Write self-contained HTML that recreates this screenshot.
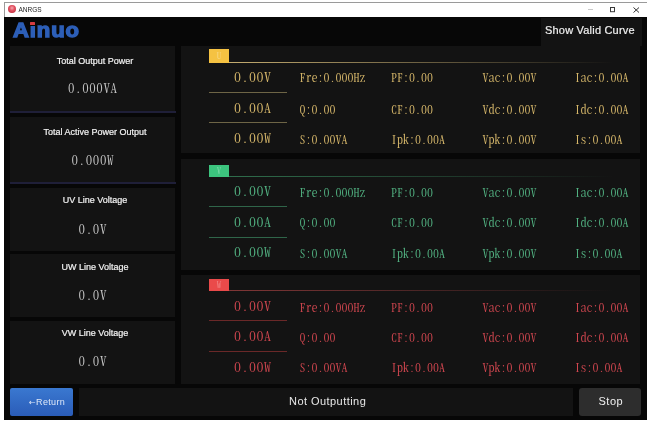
<!DOCTYPE html>
<html><head><meta charset="utf-8"><title>ANRGS</title><style>
*{margin:0;padding:0;box-sizing:border-box}
html,body{width:647px;height:421px;overflow:hidden;background:#fff}
body{position:relative;font-family:"Liberation Sans","Noto Sans CJK SC",sans-serif}
.a{position:absolute;white-space:nowrap}
.titlebar{left:4px;top:2px;width:643px;height:15px;background:#fff;border-top:1px solid #9a9a9a;border-left:1px solid #9a9a9a}
.app{left:4px;top:17px;width:643px;height:402.5px;background:#070707}
.panel{background:#131313}
.lt{color:#f2f2f2;font-size:9px;text-align:center;width:165px;left:12.5px;line-height:20px;-webkit-text-stroke:0.2px #f2f2f2}
.lv{color:#c4c4c4;font-family:'Noto Serif CJK SC',serif;font-feature-settings:'hwid';font-size:13px;letter-spacing:0.6px;padding-left:0.6px;text-align:center;width:165px;left:10px;line-height:20px}
.big{font-family:'Noto Serif CJK SC',serif;font-feature-settings:'hwid';font-size:14px;letter-spacing:0.5px;left:234px;line-height:20px;transform:scaleY(0.91);transform-origin:0 0}
.sm{font-family:'Noto Serif CJK SC',serif;font-feature-settings:'hwid';font-size:12px;line-height:20px}
.badge{left:209px;width:20px;height:13px;color:rgba(255,255,255,.35);font-family:'Noto Serif CJK SC',serif;font-feature-settings:'hwid';font-size:9px;text-align:center;line-height:13px}
</style></head>
<body>
<div class="a titlebar"></div>
<div class="a" style="left:8.2px;top:5.2px;width:7.8px;height:7.8px;border-radius:50%;background:radial-gradient(circle at 50% 38%,#f6a8b0 0,#e25262 40%,#c43040 80%,#9c2432 100%)"></div>
<div class="a" style="left:18.5px;top:5.2px;font-size:6.5px;color:#1e1e1e;line-height:9px">ANRGS</div>
<div class="a" style="left:588px;top:9px;width:5px;height:1px;background:#c8c8c8"></div>
<svg class="a" style="left:609px;top:7px" width="7" height="6" viewBox="0 0 7 6"><rect x="1.5" y="0.5" width="4" height="4.2" fill="none" stroke="#3a3a3a" stroke-width="1"/></svg>
<svg class="a" style="left:633px;top:7px" width="7" height="6" viewBox="0 0 7 6"><path d="M0.5 0.5L6 5.5M6 0.5L0.5 5.5" stroke="#333" stroke-width="1"/></svg>
<div class="a app"></div>
<div class="a" style="left:12.6px;top:17.3px;font-size:21px;font-weight:bold;color:#2d5fb8;letter-spacing:0.85px;line-height:25px;-webkit-text-stroke:1.4px #2d5fb8;transform:scaleX(1.05);transform-origin:0 0">Ainuo</div>
<div class="a" style="left:29.5px;top:19px;width:6.5px;height:7px;background:#070707"></div>
<div class="a" style="left:30.4px;top:22px;width:4.8px;height:3.4px;background:#d53c40;border-radius:0.5px"></div>
<div class="a" style="left:541px;top:18px;width:101px;height:28px;background:#131313"></div>
<div class="a" style="left:545px;top:19.8px;color:#f0f0f0;font-size:11px;letter-spacing:0.2px;line-height:20px;-webkit-text-stroke:0.2px #f0f0f0">Show Valid Curve</div>
<div class="a panel" style="left:10px;top:46px;width:165px;height:67px"></div>
<div class="a" style="left:10px;top:111px;width:166px;height:2px;background:#1f1f38"></div>
<div class="a lt" style="top:50.7px">Total Output Power</div>
<div class="a lv" style="top:78px">0.000VA</div>
<div class="a panel" style="left:10px;top:117px;width:165px;height:67px"></div>
<div class="a" style="left:10px;top:182px;width:166px;height:2px;background:#1f1f38"></div>
<div class="a lt" style="top:122px">Total Active Power Output</div>
<div class="a lv" style="top:150.2px">0.000W</div>
<div class="a panel" style="left:10px;top:188px;width:165px;height:63px"></div>
<div class="a lt" style="top:190.4px">UV Line Voltage</div>
<div class="a lv" style="top:219.2px">0.0V</div>
<div class="a panel" style="left:10px;top:254px;width:165px;height:63px"></div>
<div class="a lt" style="top:257.4px">UW Line Voltage</div>
<div class="a lv" style="top:285.2px">0.0V</div>
<div class="a panel" style="left:10px;top:321px;width:165px;height:63px"></div>
<div class="a lt" style="top:323.4px">VW Line Voltage</div>
<div class="a lv" style="top:351.2px">0.0V</div>
<div class="a panel" style="left:181px;top:46px;width:459px;height:107px"></div>
<div class="a badge" style="top:49px;height:13.6px;line-height:13.6px;background:#f5c242">U</div>
<div class="a" style="left:229px;top:62px;width:405px;height:1px;background:linear-gradient(90deg,#c4ac70,rgba(19,19,19,0) 95%)"></div>
<div class="a big" style="top:66.9px;color:#d6b76a">0.00V</div>
<div class="a sm" style="left:299.5px;top:67.2px;color:#d6b76a">Fre:0.000Hz</div>
<div class="a sm" style="left:391px;top:67.2px;color:#d6b76a">PF:0.00</div>
<div class="a sm" style="left:482.5px;top:67.2px;color:#d6b76a">Vac:0.00V</div>
<div class="a sm" style="left:574.5px;top:67.2px;color:#d6b76a">Iac:0.00A</div>
<div class="a" style="left:209px;top:91.5px;width:78px;height:1px;background:#6e6546"></div>
<div class="a big" style="top:98.2px;color:#d6b76a">0.00A</div>
<div class="a sm" style="left:299.5px;top:98.5px;color:#d6b76a">Q:0.00</div>
<div class="a sm" style="left:391px;top:98.5px;color:#d6b76a">CF:0.00</div>
<div class="a sm" style="left:482.5px;top:98.5px;color:#d6b76a">Vdc:0.00V</div>
<div class="a sm" style="left:574.5px;top:98.5px;color:#d6b76a">Idc:0.00A</div>
<div class="a" style="left:209px;top:122px;width:78px;height:1px;background:#6e6546"></div>
<div class="a big" style="top:128.3px;color:#d6b76a">0.00W</div>
<div class="a sm" style="left:299.5px;top:128.6px;color:#d6b76a">S:0.00VA</div>
<div class="a sm" style="left:391px;top:128.6px;color:#d6b76a">Ipk:0.00A</div>
<div class="a sm" style="left:482.5px;top:128.6px;color:#d6b76a">Vpk:0.00V</div>
<div class="a sm" style="left:574.5px;top:128.6px;color:#d6b76a">Is:0.00A</div>
<div class="a panel" style="left:181px;top:159px;width:459px;height:110.5px"></div>
<div class="a badge" style="top:165px;height:12px;line-height:12px;background:#3cc47e">V</div>
<div class="a" style="left:229px;top:176px;width:405px;height:1px;background:linear-gradient(90deg,#2f6e4c,rgba(19,19,19,0) 95%)"></div>
<div class="a big" style="top:181.20000000000002px;color:#52b282">0.00V</div>
<div class="a sm" style="left:299.5px;top:181.5px;color:#52b282">Fre:0.000Hz</div>
<div class="a sm" style="left:391px;top:181.5px;color:#52b282">PF:0.00</div>
<div class="a sm" style="left:482.5px;top:181.5px;color:#52b282">Vac:0.00V</div>
<div class="a sm" style="left:574.5px;top:181.5px;color:#52b282">Iac:0.00A</div>
<div class="a" style="left:209px;top:205.5px;width:78px;height:1px;background:#2f6549"></div>
<div class="a big" style="top:212.1px;color:#52b282">0.00A</div>
<div class="a sm" style="left:299.5px;top:212.39999999999998px;color:#52b282">Q:0.00</div>
<div class="a sm" style="left:391px;top:212.39999999999998px;color:#52b282">CF:0.00</div>
<div class="a sm" style="left:482.5px;top:212.39999999999998px;color:#52b282">Vdc:0.00V</div>
<div class="a sm" style="left:574.5px;top:212.39999999999998px;color:#52b282">Idc:0.00A</div>
<div class="a" style="left:209px;top:236.8px;width:78px;height:1px;background:#2f6549"></div>
<div class="a big" style="top:242.20000000000002px;color:#52b282">0.00W</div>
<div class="a sm" style="left:299.5px;top:242.5px;color:#52b282">S:0.00VA</div>
<div class="a sm" style="left:391px;top:242.5px;color:#52b282">Ipk:0.00A</div>
<div class="a sm" style="left:482.5px;top:242.5px;color:#52b282">Vpk:0.00V</div>
<div class="a sm" style="left:574.5px;top:242.5px;color:#52b282">Is:0.00A</div>
<div class="a panel" style="left:181px;top:275px;width:459px;height:108.5px"></div>
<div class="a badge" style="top:279px;height:11.7px;line-height:11.7px;background:#ea4a4a">W</div>
<div class="a" style="left:229px;top:290px;width:405px;height:1px;background:linear-gradient(90deg,#803636,rgba(19,19,19,0) 95%)"></div>
<div class="a big" style="top:296.2px;color:#d0464f">0.00V</div>
<div class="a sm" style="left:299.5px;top:296.5px;color:#d0464f">Fre:0.000Hz</div>
<div class="a sm" style="left:391px;top:296.5px;color:#d0464f">PF:0.00</div>
<div class="a sm" style="left:482.5px;top:296.5px;color:#d0464f">Vac:0.00V</div>
<div class="a sm" style="left:574.5px;top:296.5px;color:#d0464f">Iac:0.00A</div>
<div class="a" style="left:209px;top:320px;width:78px;height:1px;background:#6a2828"></div>
<div class="a big" style="top:326.29999999999995px;color:#d0464f">0.00A</div>
<div class="a sm" style="left:299.5px;top:326.59999999999997px;color:#d0464f">Q:0.00</div>
<div class="a sm" style="left:391px;top:326.59999999999997px;color:#d0464f">CF:0.00</div>
<div class="a sm" style="left:482.5px;top:326.59999999999997px;color:#d0464f">Vdc:0.00V</div>
<div class="a sm" style="left:574.5px;top:326.59999999999997px;color:#d0464f">Idc:0.00A</div>
<div class="a" style="left:209px;top:351px;width:78px;height:1px;background:#6a2828"></div>
<div class="a big" style="top:357.09999999999997px;color:#d0464f">0.00W</div>
<div class="a sm" style="left:299.5px;top:357.4px;color:#d0464f">S:0.00VA</div>
<div class="a sm" style="left:391px;top:357.4px;color:#d0464f">Ipk:0.00A</div>
<div class="a sm" style="left:482.5px;top:357.4px;color:#d0464f">Vpk:0.00V</div>
<div class="a sm" style="left:574.5px;top:357.4px;color:#d0464f">Is:0.00A</div>
<div class="a" style="left:10px;top:388px;width:63px;height:28px;border-radius:2px;background:linear-gradient(180deg,#3a78d0,#2a5cb8)"></div>
<div class="a" style="left:29px;top:392px;color:#dfe8f8;font-size:9px;letter-spacing:0.35px;line-height:20px"><span style="font-family:DejaVu Sans;font-size:8px">&#8592;</span>Return</div>
<div class="a panel" style="left:79px;top:388px;width:494px;height:28px"></div>
<div class="a" style="left:289px;top:391px;color:#e8e8e8;font-size:11px;letter-spacing:0.45px;line-height:20px">Not Outputting</div>
<div class="a" style="left:579px;top:388px;width:62px;height:28px;border-radius:3px;background:#2d2d2d"></div>
<div class="a" style="left:598.5px;top:391px;color:#f0f0f0;font-size:11px;letter-spacing:0.5px;line-height:20px">Stop</div>
</body></html>
